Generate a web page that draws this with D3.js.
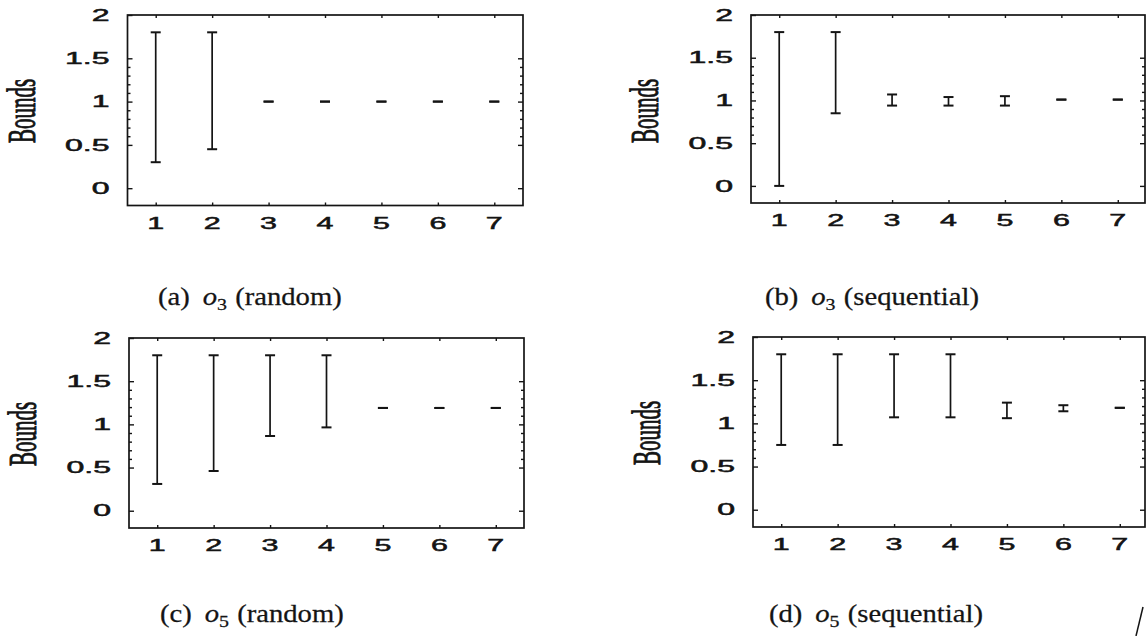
<!DOCTYPE html>
<html>
<head>
<meta charset="utf-8">
<script src="https://cdn.jsdelivr.net/npm/d3@7"></script>
<style>
  body { margin: 0; background: #fff; }
  svg { display: block; }
</style>
</head>
<body>
<div id="chart"></div>
<script>
// x categories and y ticks shared by the four panels
var xValues = [1, 2, 3, 4, 5, 6, 7];
var yTickValues = [0, 0.5, 1, 1.5, 2];
var yTickLabels = ["0", "0.5", "1", "1.5", "2"];
var yMinorValues = [0.6, 0.7, 0.8, 0.9, 1.1, 1.2, 1.3, 1.4];

// lower / upper bounds per panel
var o3RandomLow = [0.3, 0.45, 1.0, 1.0, 1.0, 1.0, 1.0];
var o3RandomHigh = [1.8, 1.8, 1.0, 1.0, 1.0, 1.0, 1.0];
var o3SequentialLow = [0.0, 0.85, 0.94, 0.94, 0.94, 1.01, 1.01];
var o3SequentialHigh = [1.8, 1.8, 1.07, 1.04, 1.05, 1.01, 1.01];
var o5RandomLow = [0.31, 0.46, 0.865, 0.965, 1.19, 1.19, 1.19];
var o5RandomHigh = [1.8, 1.8, 1.8, 1.8, 1.19, 1.19, 1.19];
var o5SequentialLow = [0.75, 0.75, 1.07, 1.07, 1.06, 1.14, 1.18];
var o5SequentialHigh = [1.8, 1.8, 1.8, 1.8, 1.24, 1.21, 1.18];

// captions
var captionLetters = ["(a)", "(b)", "(c)", "(d)"];
var captionSubscripts = ["3", "3", "5", "5"];
var captionModes = ["(random)", "(sequential)", "(random)", "(sequential)"];
var yLabel = "Bounds";

var lows = [o3RandomLow, o3SequentialLow, o5RandomLow, o5SequentialLow];
var highs = [o3RandomHigh, o3SequentialHigh, o5RandomHigh, o5SequentialHigh];

// panel frames and caption anchors
var panels = [
    {left: 127.5, top: 15, width: 395.5, height: 190.5, capX: 158, capY: 305},
    {left: 751, top: 15, width: 394, height: 188, capX: 765, capY: 305},
    {left: 129, top: 338, width: 395, height: 190, capX: 160, capY: 622},
    {left: 753, top: 337, width: 392, height: 190, capX: 769, capY: 622}
];

var ink = "#141414";

var svg = d3.select("#chart").append("svg")
    .attr("width", 1146)
    .attr("height", 636);

panels.forEach(function (p, pi) {
    // ticks sit at 1..7 with the same spacing in every panel
    var x = d3.scaleLinear().domain([0.5, 7.5]).range([0, 395]);
    var y = d3.scaleLinear().domain([-0.2, 2]).range([p.height, 0]);

    var g = svg.append("g")
        .attr("transform", "translate(" + p.left + "," + p.top + ")");

    // inward ticks, no labels
    function strip(sel) {
        sel.select(".domain").remove();
        sel.selectAll("text").remove();
        sel.selectAll("line").attr("stroke", ink).attr("stroke-width", 1.4);
    }

    g.append("g").call(d3.axisLeft(y).tickValues(yTickValues).tickSizeInner(-5).tickSizeOuter(0)).call(strip);
    g.append("g").call(d3.axisLeft(y).tickValues(yMinorValues).tickSizeInner(-3).tickSizeOuter(0)).call(strip);
    g.append("g").attr("transform", "translate(" + p.width + ",0)")
        .call(d3.axisRight(y).tickValues(yTickValues.filter(function (v) { return v < 2; })).tickSizeInner(-5).tickSizeOuter(0)).call(strip);
    g.append("g").attr("transform", "translate(" + p.width + ",0)")
        .call(d3.axisRight(y).tickValues(yMinorValues).tickSizeInner(-3).tickSizeOuter(0)).call(strip);
    g.append("g").attr("transform", "translate(0," + p.height + ")")
        .call(d3.axisBottom(x).tickValues(xValues).tickSizeInner(-3).tickSizeOuter(0)).call(strip);
    g.append("g")
        .call(d3.axisTop(x).tickValues(xValues).tickSizeInner(-3).tickSizeOuter(0)).call(strip);

    // frame
    g.append("rect")
        .attr("width", p.width)
        .attr("height", p.height)
        .attr("fill", "none")
        .attr("stroke", ink)
        .attr("stroke-width", 1.7);

    // y tick labels (stretched wide like the original print)
    g.selectAll(".ylab")
        .data(yTickValues)
        .enter().append("text")
        .attr("class", "ylab")
        .attr("transform", function (d) { return "translate(-18," + y(d) + ") scale(2,1)"; })
        .attr("dy", "0.36em")
        .attr("text-anchor", "end")
        .attr("font-family", "Liberation Sans, Arial, sans-serif")
        .attr("font-size", 16)
        .attr("fill", ink)
        .attr("stroke", ink)
        .attr("stroke-width", 0.5)
        .text(function (d, i) { return yTickLabels[i]; });

    // x tick labels
    g.selectAll(".xlab")
        .data(xValues)
        .enter().append("text")
        .attr("class", "xlab")
        .attr("transform", function (d) { return "translate(" + x(d) + "," + (p.height + 23) + ") scale(1.9,1)"; })
        .attr("text-anchor", "middle")
        .attr("font-family", "Liberation Sans, Arial, sans-serif")
        .attr("font-size", 16)
        .attr("fill", ink)
        .attr("stroke", ink)
        .attr("stroke-width", 0.5)
        .text(function (d) { return d; });

    // y axis title
    g.append("text")
        .attr("transform", "translate(-93," + 96 + ") rotate(-90) scale(1,1.9)")
        .attr("text-anchor", "middle")
        .attr("font-family", "Liberation Serif, Times New Roman, serif")
        .attr("font-size", 21)
        .attr("fill", ink)
        .attr("stroke", ink)
        .attr("stroke-width", 0.5)
        .text(yLabel);

    // error bars
    var rows = xValues.map(function (v, i) {
        return {x: v, lo: lows[pi][i], hi: highs[pi][i]};
    });
    var bars = g.selectAll(".bar")
        .data(rows)
        .enter().append("g")
        .attr("class", "bar")
        .attr("stroke", ink);

    bars.filter(function (d) { return d.hi > d.lo; })
        .append("line")
        .attr("x1", function (d) { return x(d.x); })
        .attr("x2", function (d) { return x(d.x); })
        .attr("y1", function (d) { return y(d.lo); })
        .attr("y2", function (d) { return y(d.hi); })
        .attr("stroke-width", 1.7);

    [function (d) { return d.lo; }, function (d) { return d.hi; }].forEach(function (acc) {
        bars.append("line")
            .attr("x1", function (d) { return x(d.x) - 5; })
            .attr("x2", function (d) { return x(d.x) + 5; })
            .attr("y1", function (d) { return y(acc(d)); })
            .attr("y2", function (d) { return y(acc(d)); })
            .attr("stroke-width", 2);
    });

    // caption below the panel
    var cap = svg.append("text")
        .attr("transform", "translate(" + p.capX + "," + p.capY + ") scale(1.17,1)")
        .attr("font-family", "Liberation Serif, Times New Roman, serif")
        .attr("font-size", 24.5)
        .attr("fill", ink)
        .attr("stroke", ink)
        .attr("stroke-width", 0.25);
    cap.append("tspan").text(captionLetters[pi]);
    cap.append("tspan").attr("dx", 11).attr("font-style", "italic").text("o");
    cap.append("tspan").attr("font-size", 17).attr("dy", 5).text(captionSubscripts[pi]);
    cap.append("tspan").attr("dx", 7).attr("dy", -5).text(captionModes[pi]);
});

// page edge mark at the bottom right
svg.append("line")
    .attr("x1", 1143).attr("y1", 607)
    .attr("x2", 1136).attr("y2", 636)
    .attr("stroke", ink)
    .attr("stroke-width", 1.5);
</script>
</body>
</html>
